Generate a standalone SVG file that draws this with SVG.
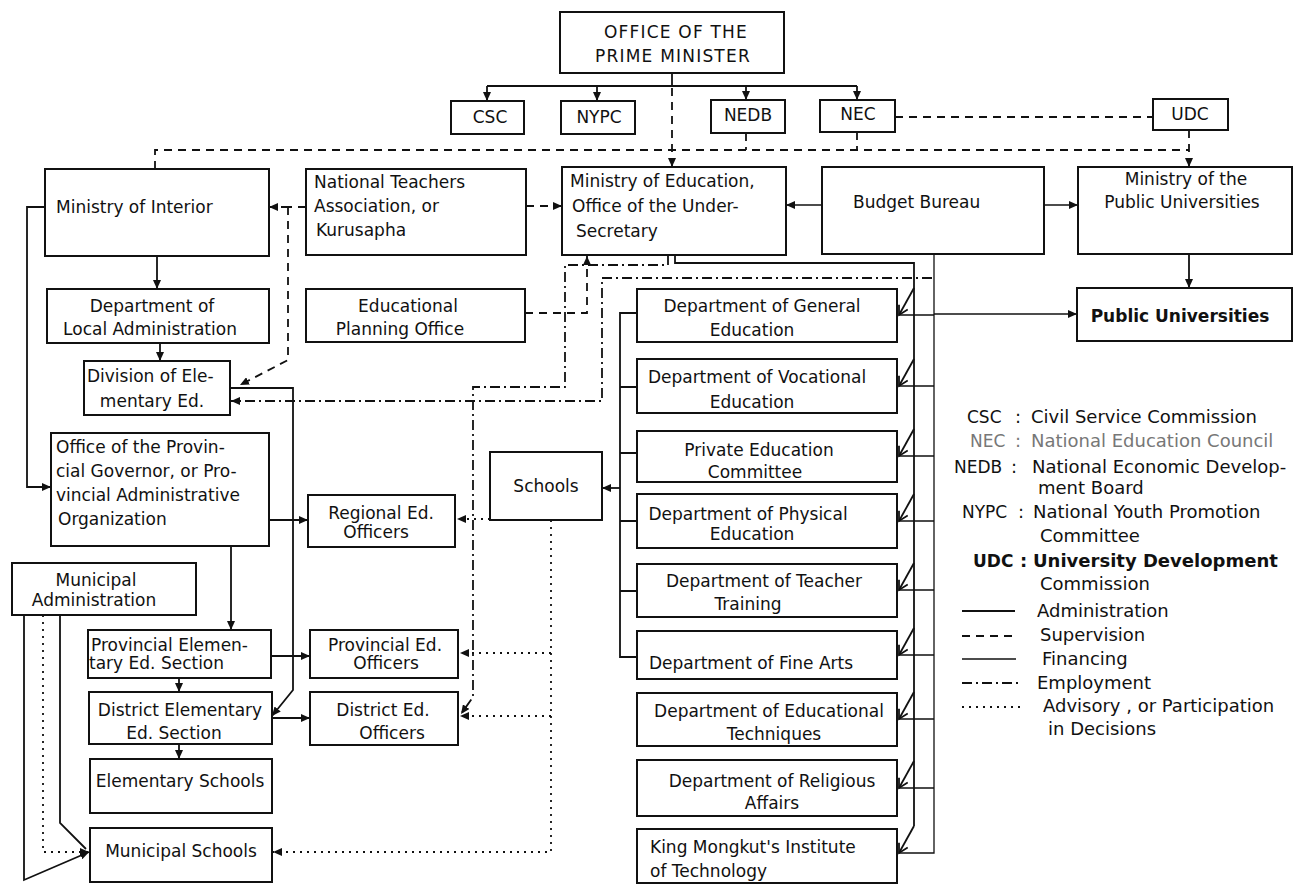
<svg xmlns="http://www.w3.org/2000/svg" width="1300" height="885" viewBox="0 0 1300 885">
<style>
.bx{fill:#fff;stroke:#111;stroke-width:2}
.t{font-family:"DejaVu Sans",sans-serif;font-size:17px;fill:#111}
.c{text-anchor:middle}
.cap{letter-spacing:1.2px}
.lg{font-family:"DejaVu Sans",sans-serif;font-size:18px;fill:#111}
.ab{font-size:17px}
.b{font-weight:bold}
.gray{fill:#777}
.ln{fill:none;stroke:#111;stroke-width:1.8}
.fin{stroke-width:1.3}
.sup{stroke-dasharray:8 6}
.emp{stroke-dasharray:10 4 2 4}
.adv{stroke-dasharray:2 5}
</style>
<defs>
<marker id="a" markerUnits="userSpaceOnUse" markerWidth="10" markerHeight="8" refX="9" refY="4" orient="auto"><path d="M0,0 L9,4 L0,8 z" fill="#111" stroke="none"/></marker>
<marker id="v" markerUnits="userSpaceOnUse" markerWidth="12" markerHeight="12" refX="10" refY="6" orient="auto"><path d="M1,1 L10,6 L1,11" fill="none" stroke="#111" stroke-width="1.8" stroke-dasharray="none"/></marker>
</defs>
<rect width="1300" height="885" fill="#fff"/>

<g id="connectors">
<path class="ln" d="M672,73 V86 M487,86 H857"/>
<path class="ln" d="M487,86 V101" marker-end="url(#a)"/>
<path class="ln" d="M597,86 V101" marker-end="url(#a)"/>
<path class="ln" d="M746,86 V100" marker-end="url(#a)"/>
<path class="ln" d="M857,86 V100" marker-end="url(#a)"/>
<path class="ln sup" d="M672,88 V167" marker-end="url(#a)"/>
<path class="ln sup" d="M895,117 H1153"/>
<path class="ln sup" d="M155,169 V150 H1189"/>
<path class="ln sup" d="M746,133 V150 M857,132 V150"/>
<path class="ln sup" d="M1189,130 V167" marker-end="url(#a)"/>
<path class="ln fin" d="M822,205 H786" marker-end="url(#a)"/>
<path class="ln fin" d="M1044,205 H1078" marker-end="url(#a)"/>
<path class="ln sup" d="M526,206 H562" marker-end="url(#a)"/>
<path class="ln sup" d="M306,207 H269" marker-end="url(#a)"/>
<path class="ln sup" d="M281,207 H295 M288,207 V360 L240,385" marker-end="url(#a)"/>
<path class="ln" d="M157,256 V289" marker-end="url(#a)"/>
<path class="ln" d="M160,343 V361" marker-end="url(#a)"/>
<path class="ln" d="M45,207 H27 V487 H51" marker-end="url(#a)"/>
<path class="ln" d="M230,388 H293 V690 L272,716" marker-end="url(#a)"/>
<path class="ln" d="M269,520 H308" marker-end="url(#a)"/>
<path class="ln" d="M231,546 V630" marker-end="url(#a)"/>
<path class="ln" d="M271,656 H310" marker-end="url(#a)"/>
<path class="ln" d="M179,678 V692" marker-end="url(#a)"/>
<path class="ln" d="M272,718 H310" marker-end="url(#a)"/>
<path class="ln" d="M179,744 V759" marker-end="url(#a)"/>
<path class="ln" d="M24,615 V880 L89,852" marker-end="url(#a)"/>
<path class="ln" d="M60,615 V823 L86,849"/>
<path class="ln adv" d="M43,615 V852 H89" marker-end="url(#a)"/>
<path class="ln adv" d="M490,519 H457" marker-end="url(#a)"/>
<path class="ln adv" d="M551,520 V852 H273" marker-end="url(#a)"/>
<path class="ln adv" d="M551,653 H460" marker-end="url(#a)"/>
<path class="ln adv" d="M551,716 H460" marker-end="url(#a)"/>
<path class="ln emp" d="M668,255 V265 H565 V387 H473 V697 L461,714" marker-end="url(#a)"/>
<path class="ln emp" d="M932,278 H602 V401 H231" marker-end="url(#a)"/>
<path class="ln sup" d="M525,313 H587 V256" marker-end="url(#a)"/>
<path class="ln" d="M675,255 V263 H914 V826"/>
<path class="ln" d="M914,288 L899,315" marker-end="url(#v)"/>
<path class="ln" d="M914,359 L899,386" marker-end="url(#v)"/>
<path class="ln" d="M914,429 L899,456" marker-end="url(#v)"/>
<path class="ln" d="M914,494 L899,521" marker-end="url(#v)"/>
<path class="ln" d="M914,563 L899,590" marker-end="url(#v)"/>
<path class="ln" d="M914,628 L899,655" marker-end="url(#v)"/>
<path class="ln" d="M914,692 L899,719" marker-end="url(#v)"/>
<path class="ln" d="M914,761 L899,788" marker-end="url(#v)"/>
<path class="ln" d="M914,826 L899,853" marker-end="url(#v)"/>
<path class="ln fin" d="M934,254 V853 H899"/>
<path class="ln fin" d="M934,315 H899 M934,386 H899 M934,456 H899 M934,521 H899 M934,590 H899 M934,655 H899 M934,719 H899 M934,788 H899"/>
<path class="ln fin" d="M934,314 H1077" marker-end="url(#a)"/>
<path class="ln" d="M637,313 H620 V657 H637 M620,387 H637 M620,453 H637 M620,521 H637 M620,591 H637"/>
<path class="ln" d="M620,488 H602" marker-end="url(#a)"/>
<path class="ln" d="M1189,254 V288" marker-end="url(#a)"/>
</g>

<g id="pm"><rect class="bx" x="560" y="12" width="224" height="61"/><text class="t c cap" x="676" y="38">OFFICE OF THE</text><text class="t c cap" x="673" y="62">PRIME MINISTER</text></g>
<g id="csc"><rect class="bx" x="451" y="101" width="73" height="33"/><text class="t c" x="490" y="123">CSC</text></g>
<g id="nypc"><rect class="bx" x="561" y="101" width="74" height="33"/><text class="t c" x="599" y="123">NYPC</text></g>
<g id="nedb"><rect class="bx" x="711" y="100" width="74" height="33"/><text class="t c" x="748" y="121">NEDB</text></g>
<g id="nec"><rect class="bx" x="820" y="100" width="75" height="32"/><text class="t c" x="858" y="120">NEC</text></g>
<g id="udc"><rect class="bx" x="1153" y="99" width="75" height="31"/><text class="t c" x="1190" y="120">UDC</text></g>

<g id="interior"><rect class="bx" x="45" y="169" width="224" height="87"/><text class="t" x="56" y="213">Ministry of Interior</text></g>
<g id="nta"><rect class="bx" x="306" y="169" width="220" height="86"/><text class="t" x="314" y="188">National Teachers</text><text class="t" x="314" y="212">Association, or</text><text class="t" x="316" y="236">Kurusapha</text></g>
<g id="mined"><rect class="bx" x="562" y="167" width="224" height="88"/><text class="t" x="570" y="187">Ministry of Education,</text><text class="t" x="572" y="212">Office of the Under-</text><text class="t" x="576" y="237">Secretary</text></g>
<g id="budget"><rect class="bx" x="822" y="167" width="222" height="87"/><text class="t" x="853" y="208">Budget Bureau</text></g>
<g id="mpu"><rect class="bx" x="1078" y="167" width="214" height="87"/><text class="t c" x="1186" y="185">Ministry of the</text><text class="t c" x="1182" y="208">Public Universities</text></g>

<g id="dla"><rect class="bx" x="47" y="289" width="222" height="54"/><text class="t c" x="152" y="312">Department of</text><text class="t c" x="150" y="335">Local Administration</text></g>
<g id="epo"><rect class="bx" x="306" y="289" width="219" height="53"/><text class="t c" x="408" y="312">Educational</text><text class="t c" x="400" y="335">Planning Office</text></g>
<g id="division"><rect class="bx" x="84" y="361" width="146" height="54"/><text class="t" x="87" y="382">Division of Ele-</text><text class="t c" x="152" y="407">mentary Ed.</text></g>
<g id="opg"><rect class="bx" x="51" y="433" width="218" height="113"/><text class="t" x="56" y="453">Office of the Provin-</text><text class="t" x="56" y="477">cial Governor, or Pro-</text><text class="t" x="56" y="501">vincial Administrative</text><text class="t" x="58" y="525">Organization</text></g>
<g id="regional"><rect class="bx" x="308" y="495" width="147" height="52"/><text class="t c" x="381" y="519">Regional Ed.</text><text class="t c" x="376" y="538">Officers</text></g>
<g id="schools"><rect class="bx" x="490" y="452" width="112" height="68"/><text class="t c" x="546" y="492">Schools</text></g>
<g id="munadmin"><rect class="bx" x="12" y="563" width="184" height="52"/><text class="t c" x="96" y="586">Municipal</text><text class="t c" x="94" y="606">Administration</text></g>
<g id="provelem"><rect class="bx" x="88" y="630" width="183" height="48"/><text class="t" x="91" y="651">Provincial Elemen-</text><text class="t" x="89" y="669">tary Ed. Section</text></g>
<g id="provofficers"><rect class="bx" x="310" y="630" width="148" height="48"/><text class="t c" x="385" y="651">Provincial Ed.</text><text class="t c" x="386" y="669">Officers</text></g>
<g id="distelem"><rect class="bx" x="89" y="692" width="183" height="52"/><text class="t c" x="180" y="716">District Elementary</text><text class="t c" x="174" y="739">Ed. Section</text></g>
<g id="distofficers"><rect class="bx" x="310" y="692" width="148" height="53"/><text class="t c" x="383" y="716">District  Ed.</text><text class="t c" x="392" y="739">Officers</text></g>
<g id="elemschools"><rect class="bx" x="90" y="759" width="182" height="54"/><text class="t c" x="180" y="787">Elementary Schools</text></g>
<g id="munschools"><rect class="bx" x="90" y="828" width="182" height="54"/><text class="t c" x="181" y="857">Municipal Schools</text></g>

<g id="dept-general"><rect class="bx" x="637" y="289" width="260" height="53"/><text class="t c" x="762" y="312">Department of General</text><text class="t c" x="752" y="336">Education</text></g>
<g id="dept-vocational"><rect class="bx" x="637" y="359" width="260" height="54"/><text class="t c" x="757" y="383">Department of Vocational</text><text class="t c" x="752" y="408">Education</text></g>
<g id="private"><rect class="bx" x="637" y="431" width="260" height="51"/><text class="t c" x="759" y="456" fill="#444">Private  Education</text><text class="t c" x="755" y="478">Committee</text></g>
<g id="dept-physical"><rect class="bx" x="637" y="494" width="260" height="54"/><text class="t c" x="748" y="520">Department of Physical</text><text class="t c" x="752" y="540">Education</text></g>
<g id="dept-teacher"><rect class="bx" x="637" y="564" width="260" height="53"/><text class="t c" x="764" y="587">Department of Teacher</text><text class="t c" x="748" y="610">Training</text></g>
<g id="dept-finearts"><rect class="bx" x="637" y="631" width="260" height="48"/><text class="t c" x="751" y="669">Department of Fine Arts</text></g>
<g id="dept-edtech"><rect class="bx" x="637" y="693" width="260" height="53"/><text class="t c" x="769" y="717">Department of Educational</text><text class="t c" x="774" y="740">Techniques</text></g>
<g id="dept-religious"><rect class="bx" x="637" y="760" width="260" height="56"/><text class="t c" x="772" y="787">Department of Religious</text><text class="t c" x="772" y="809">Affairs</text></g>
<g id="kmit"><rect class="bx" x="637" y="829" width="260" height="54"/><text class="t" x="650" y="853">King Mongkut's Institute</text><text class="t" x="650" y="877">of Technology</text></g>
<g id="publicuni"><rect class="bx" x="1077" y="288" width="215" height="53"/><text class="t c b" x="1180" y="322">Public Universities</text></g>

<g id="legend">
<text class="lg ab" x="967" y="423">CSC</text><text class="lg" x="1015" y="423">:</text><text class="lg" x="1031" y="423">Civil Service Commission</text>
<text class="lg ab gray" x="970" y="447">NEC</text><text class="lg gray" x="1015" y="447">:</text><text class="lg gray" x="1031" y="447">National Education Council</text>
<text class="lg ab" x="954" y="473">NEDB</text><text class="lg" x="1011" y="473">:</text><text class="lg" x="1032" y="473">National Economic Develop-</text>
<text class="lg" x="1038" y="494">ment Board</text>
<text class="lg ab" x="962" y="518">NYPC</text><text class="lg" x="1018" y="518">:</text><text class="lg" x="1033" y="518">National Youth Promotion</text>
<text class="lg" x="1040" y="542">Committee</text>
<text class="lg ab b" x="973" y="567">UDC</text><text class="lg b" x="1020" y="567">:</text><text class="lg b" x="1033" y="567">University Development</text>
<text class="lg" x="1040" y="590">Commission</text>
<path class="ln" d="M962,611 H1015"/><text class="lg" x="1037" y="617">Administration</text>
<path class="ln sup" d="M962,636 H1018"/><text class="lg" x="1040" y="641">Supervision</text>
<path class="ln fin" d="M962,659 H1016"/><text class="lg" x="1042" y="665">Financing</text>
<path class="ln emp" d="M962,683 H1020"/><text class="lg" x="1037" y="689">Employment</text>
<path class="ln adv" d="M962,707 H1022"/><text class="lg" x="1043" y="712">Advisory , or Participation</text>
<text class="lg" x="1048" y="735">in Decisions</text>
</g>
</svg>
